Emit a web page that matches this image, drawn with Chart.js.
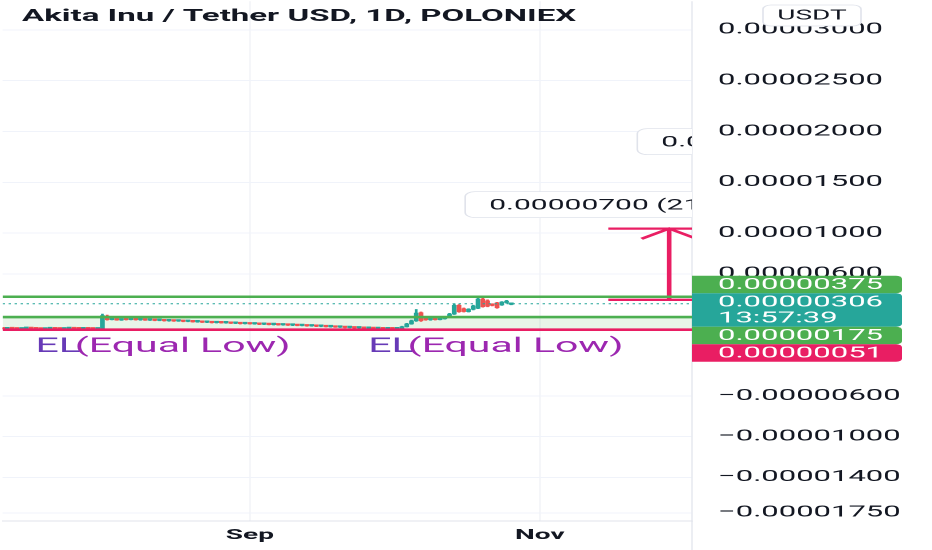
<!DOCTYPE html>
<html>
<head>
<meta charset="utf-8">
<title>Akita Inu / Tether USD, 1D, POLONIEX</title>
<script src="https://cdn.jsdelivr.net/npm/chart.js@4.4.1/dist/chart.umd.min.js"></script>
<style>
  html, body { margin: 0; padding: 0; background: #fff; overflow: hidden; }
  /* the screenshot is stretched sideways, so the chart is drawn half as wide and scaled */
  #wrap { position: absolute; left: 0; top: 0; width: 466px; height: 550px; transform: scaleX(2); transform-origin: 0 0; }
</style>
</head>
<body>
<div id="wrap"><canvas id="priceChart"></canvas></div>
<script>
// daily candles, day 0 = 11 Jul, prices in units of 0.00000001 USDT
const UNIT = 1e-8;
const opens = [62,60,64,61,58,63,66,62,60,57,61,64,60,58,62,65,61,59,63,60,58,
  60,185,
  150,158,146,155,150,156,148,152,145,150,142,146,138,143,136,139,132,136,
  128,131,124,127,120,124,118,121,114,117,110,114,108,111,104,108,101,104,98,102,95,99,92,
  96,88,91,84,88,80,83,76,79,72,75,68,71,65,68,62,65,60,
  62,60,66,80,108,138,218,160,148,158,150,158,175,205,290,258,228,252,262,352,335,300,315,295,318,300];
const closes = [60,64,61,58,63,66,62,60,57,61,64,60,58,62,65,61,59,63,60,58,60,
  190,150,
  158,146,155,150,156,148,152,145,150,142,146,138,143,136,139,132,136,128,
  131,124,127,120,124,118,121,114,117,110,114,108,111,104,108,101,104,98,102,95,99,92,96,
  88,91,84,88,80,83,76,79,72,75,68,71,65,68,62,65,60,62,
  60,66,80,108,138,215,140,148,158,150,160,175,205,290,228,230,252,285,352,278,282,290,268,322,330,306];
const highs = [65,66,67,63,65,69,68,65,62,63,66,66,62,64,67,67,63,65,65,62,62,
  205,195,
  163,161,159,160,160,159,156,155,154,153,150,149,147,146,143,142,140,139,
  135,134,131,130,128,127,125,124,121,120,118,117,115,114,112,111,108,107,106,105,103,102,100,
  99,95,94,92,91,87,86,83,82,79,78,75,74,72,71,69,68,66,
  65,70,85,114,146,250,225,166,163,162,165,180,212,305,298,265,258,292,375,370,345,306,320,328,340,312];
const lows = [58,58,59,56,56,61,60,58,55,55,59,58,56,56,60,59,57,57,58,56,56,
  58,145,
  147,143,142,146,147,145,144,142,141,139,138,135,134,133,132,129,129,125,
  124,121,120,117,116,115,114,111,110,107,106,105,104,101,100,98,97,95,94,92,91,89,88,
  85,84,81,80,77,76,73,72,69,68,65,64,62,61,59,58,57,56,
  56,57,63,77,104,133,132,143,144,146,147,154,170,200,222,225,224,246,258,272,276,285,262,290,312,296];

const monthTicks = [52, 113];          // 1 Sep, 1 Nov
const monthLabels = ['Sep', 'Nov'];
const priceTicks = [0.000035, 0.00003, 0.000025, 0.00002, 0.000015, 0.00001, 0.000006,
  -0.000006, -0.00001, -0.000014, -0.0000175];

// horizontal levels drawn on the chart
const levelTop = 0.00000375;
const lastPrice = 0.00000306;
const levelMid = 0.00000175;
const levelLow = 0.00000051;
const countdown = '13:57:39';

// price range measurement (pink arrow)
const measureFrom = 0.00000345;
const measureTo = 0.00001045;
const measureText = '0.00000700 (217.39%) 700';

const UP = '#26a69a', DOWN = '#ef5350', GREEN = '#4caf50', PINK = '#e91e63';
const FONT = 'Roboto, "Noto Sans", sans-serif';
const X_MIN = 0, X_MAX = 145;

const days = opens.map((_, i) => i);
const candleColors = days.map(i => closes[i] >= opens[i] ? UP : DOWN);

function hline(v) {
  return [{ x: X_MIN, y: v }, { x: X_MAX, y: v }];
}
function lineSet(data, color, width, extra) {
  return Object.assign({
    type: 'line', data: data, borderColor: color, borderWidth: width,
    pointRadius: 0, fill: false, order: -1, tension: 0
  }, extra || {});
}

function box(ctx, x, y, w, h, r) {
  ctx.beginPath();
  if (ctx.roundRect) ctx.roundRect(x, y, w, h, r); else ctx.rect(x, y, w, h);
}

const overlay = {
  id: 'overlay',
  afterDatasetsDraw(chart) {
    const { ctx, chartArea: a, scales: { x, y } } = chart;
    ctx.save();
    ctx.beginPath();
    ctx.rect(a.left, a.top, a.right - a.left, a.bottom - a.top);
    ctx.clip();

    // measurement label
    ctx.font = '15px ' + FONT;
    ctx.textBaseline = 'middle';
    let tw = ctx.measureText(measureText).width;
    let cx = x.getPixelForValue(140.2);
    let cy = y.getPixelForValue(measureTo) - 24;
    box(ctx, cx - tw / 2 - 12, cy - 13, tw + 24, 26, 5);
    ctx.fillStyle = '#fff'; ctx.fill();
    ctx.strokeStyle = '#e0e3eb'; ctx.lineWidth = 0.8; ctx.stroke();
    ctx.fillStyle = '#131722'; ctx.textAlign = 'left';
    ctx.fillText(measureText, cx - tw / 2, cy + 1);

    // second price label, cut by the price axis
    let lx = x.getPixelForValue(133.5);
    let ly = y.getPixelForValue(0.000019);
    let t2 = '0.00001900';
    let w2 = ctx.measureText(t2).width + 24;
    box(ctx, lx, ly - 13, w2, 26, 5);
    ctx.fillStyle = '#fff'; ctx.fill();
    ctx.strokeStyle = '#e0e3eb'; ctx.stroke();
    ctx.fillStyle = '#131722';
    ctx.fillText(t2, lx + 12, ly + 1);

    // Equal Low labels
    ctx.font = '20.5px ' + FONT;
    [6.9, 76.9].forEach(d => {
      const px = x.getPixelForValue(d);
      const py = y.getPixelForValue(-0.00000116);
      ctx.fillStyle = '#673ab7';
      ctx.fillText('EL', px, py);
      const ew = ctx.measureText('EL').width;
      ctx.fillStyle = '#9c27b0';
      ctx.fillText('(Equal Low)', px + ew - 3, py);
    });
    ctx.restore();
  },
  afterDraw(chart) {
    const { ctx, chartArea: a, scales: { y } } = chart;
    ctx.save();
    // title
    ctx.font = 'bold 16.5px ' + FONT;
    ctx.fillStyle = '#131722';
    ctx.textBaseline = 'middle'; ctx.textAlign = 'left';
    ctx.fillText('Akita Inu / Tether USD, 1D, POLONIEX', 11, 17);

    // axis separator down to the bottom
    ctx.strokeStyle = '#e0e3eb'; ctx.lineWidth = 0.6;
    ctx.beginPath(); ctx.moveTo(a.right, a.bottom); ctx.lineTo(a.right, chart.height); ctx.stroke();

    // price tags on the axis
    const tags = [
      { lines: [levelTop.toFixed(8)], color: GREEN },
      { lines: [lastPrice.toFixed(8), countdown], color: UP },
      { lines: [levelMid.toFixed(8)], color: GREEN },
      { lines: [levelLow.toFixed(8)], color: PINK }
    ];
    let top = y.getPixelForValue(levelTop) - 21;
    ctx.font = '15.5px ' + FONT;
    tags.forEach(t => {
      const h = 17.5 + (t.lines.length - 1) * 16;
      box(ctx, a.right, top, 105, h, [0, 3, 3, 0]);
      ctx.fillStyle = t.color; ctx.fill();
      ctx.fillStyle = '#fff';
      t.lines.forEach((s, k) => ctx.fillText(s, a.right + 13, top + 9.5 + k * 16));
      top += h;
    });

    // currency button
    box(ctx, 381.5, 5, 49, 21, 4);
    ctx.fillStyle = '#fff'; ctx.fill();
    ctx.strokeStyle = '#e0e3eb'; ctx.lineWidth = 0.8; ctx.stroke();
    ctx.font = '14px ' + FONT; ctx.fillStyle = '#131722'; ctx.textAlign = 'center';
    ctx.fillText('USDT', 406, 16);
    ctx.restore();
  }
};

new Chart(document.getElementById('priceChart'), {
  type: 'bar',
  data: {
    datasets: [
      {
        label: 'wicks',
        data: days.map(i => ({ x: i, y: [lows[i] * UNIT, highs[i] * UNIT] })),
        backgroundColor: candleColors, barThickness: 0.7, grouped: false, order: 1
      },
      {
        label: 'bodies',
        data: days.map(i => ({ x: i, y: [opens[i] * UNIT, closes[i] * UNIT] })),
        backgroundColor: candleColors, barThickness: 1.7, minBarLength: 1.5, grouped: false, order: 0
      },
      lineSet(hline(levelTop), GREEN, 2.6),
      lineSet(hline(lastPrice), UP, 1, { borderDash: [1.2, 1.8] }),
      lineSet(hline(levelMid), GREEN, 2.6, { fill: '+1', backgroundColor: 'rgba(76,175,80,0.13)' }),
      lineSet(hline(levelLow), PINK, 2.6),
      lineSet([{ x: 127.4, y: measureFrom }, { x: X_MAX, y: measureFrom }], PINK, 2.3),
      lineSet([{ x: 127.4, y: measureTo }, { x: X_MAX, y: measureTo }], PINK, 2.3),
      lineSet([{ x: 140.2, y: measureFrom }, { x: 140.2, y: measureTo }], PINK, 2.3),
      lineSet([{ x: 134.4, y: measureTo - 0.000001 }, { x: 140.2, y: measureTo }, { x: 146, y: measureTo - 0.000001 }], PINK, 2.3)
    ]
  },
  options: {
    responsive: true,
    maintainAspectRatio: false,
    animation: false,
    devicePixelRatio: 2,
    layout: { padding: 0 },
    plugins: {
      legend: { display: false },
      tooltip: { enabled: false },
      filler: { drawTime: 'beforeDatasetsDraw' }
    },
    scales: {
      x: {
        type: 'linear', min: X_MIN, max: X_MAX, offset: false,
        afterBuildTicks: axis => { axis.ticks = monthTicks.map(v => ({ value: v })); },
        afterFit: axis => { axis.height = 29; axis.paddingLeft = 0; axis.paddingRight = 0; },
        ticks: {
          padding: 6, color: '#131722', font: { family: FONT, size: 14, weight: 'bold' },
          callback: v => monthLabels[monthTicks.indexOf(v)]
        },
        grid: { color: '#eef0f5', lineWidth: 0.6, drawTicks: false, offset: false },
        border: { color: '#e0e3eb' }
      },
      y: {
        position: 'right', min: -0.0000183, max: 0.0000328,
        afterBuildTicks: axis => {
          axis.ticks = priceTicks.filter(v => v >= axis.min && v <= axis.max).map(v => ({ value: v }));
        },
        afterFit: axis => { axis.width = 120; axis.paddingTop = 0; axis.paddingBottom = 0; },
        ticks: {
          padding: 13, color: '#131722', font: { family: FONT, size: 15.5 },
          callback: v => (v < 0 ? '\u2212' : '') + Math.abs(v).toFixed(8)
        },
        grid: { color: '#f0f3fa', lineWidth: 1, drawTicks: false },
        border: { color: '#e0e3eb', width: 0.6 }
      }
    }
  },
  plugins: [overlay]
});
</script>
</body>
</html>
